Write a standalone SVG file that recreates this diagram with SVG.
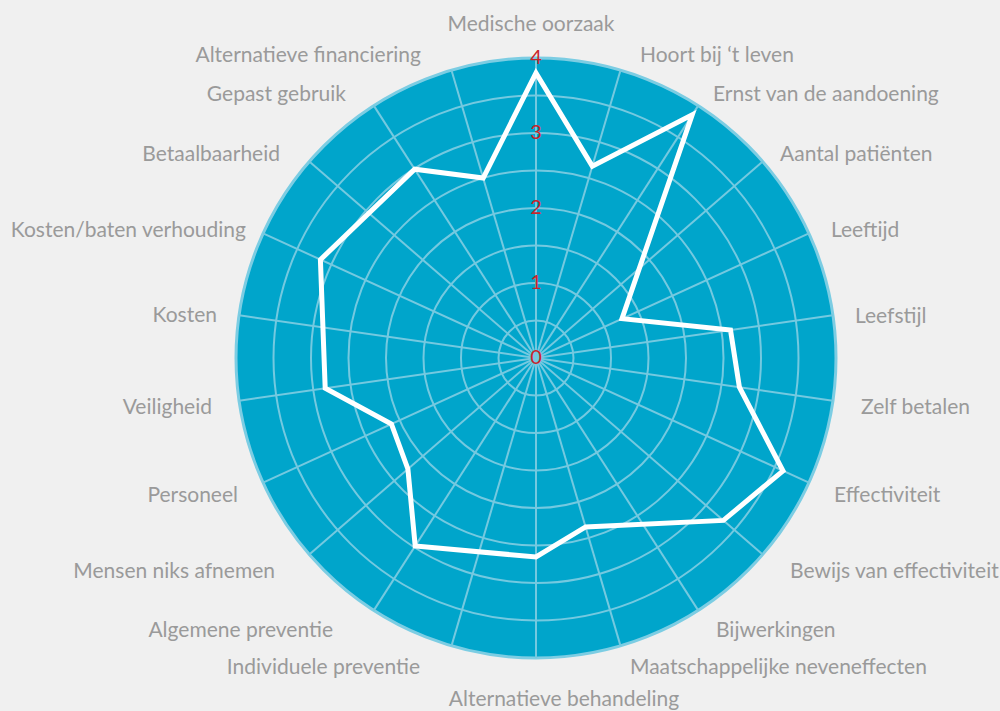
<svg xmlns="http://www.w3.org/2000/svg" width="1000" height="711" viewBox="0 0 1000 711">
<style>
.lbl{font-family:Lato,"Open Sans","Liberation Sans",sans-serif;font-size:21px;fill:#9a9a9a}
.val{font-family:Lato,"Open Sans","Liberation Sans",sans-serif;font-size:20px;fill:#c8242b;text-anchor:middle}
.grid{fill:none;stroke:#74c9e0;stroke-width:2}
.s{text-anchor:start}.e{text-anchor:end}.m{text-anchor:middle}
</style>
<rect width="1000" height="711" fill="#f0f0f0"/>
<g id="chart">
<circle cx="536" cy="358" r="300" fill="#00a5cb" stroke="#7ccde3" stroke-width="3"/>
<g class="grid">
<circle cx="536" cy="358" r="37.5"/><circle cx="536" cy="358" r="75"/><circle cx="536" cy="358" r="112.5"/><circle cx="536" cy="358" r="150"/><circle cx="536" cy="358" r="187.5"/><circle cx="536" cy="358" r="225"/><circle cx="536" cy="358" r="262.5"/>
<line x1="536" y1="58" x2="536" y2="658"/>
<line x1="620.5" y1="70.2" x2="451.5" y2="645.9"/>
<line x1="698.2" y1="105.6" x2="373.8" y2="610.4"/>
<line x1="762.7" y1="161.5" x2="309.3" y2="554.5"/>
<line x1="808.9" y1="233.4" x2="263.1" y2="482.6"/>
<line x1="832.9" y1="315.3" x2="239.1" y2="400.7"/>
<line x1="832.9" y1="400.7" x2="239.1" y2="315.3"/>
<line x1="808.9" y1="482.6" x2="263.1" y2="233.4"/>
<line x1="762.7" y1="554.5" x2="309.3" y2="161.5"/>
<line x1="698.2" y1="610.4" x2="373.8" y2="105.6"/>
<line x1="620.5" y1="645.9" x2="451.5" y2="70.2"/>
</g>
</g>
<g id="connectors">
<polygon id="series" points="536,73 592.3,166.1 692.2,114.9 622,318.7 730.5,330 739.4,387.2 783,470.8 723.4,520.4 585.6,526.9 536,557 415.2,546 407.9,469 391.4,424 325.2,388.3 320.4,259.7 414.7,169.2 483.2,178" fill="none" stroke="#ffffff" stroke-width="5" stroke-linejoin="miter"/>
</g>
<g id="values">
<text class="val" x="536" y="64">4</text>
<text class="val" x="536" y="139">3</text>
<text class="val" x="536" y="214">2</text>
<text class="val" x="536" y="289">1</text>
<text class="val" x="536" y="364">0</text>
</g>
<g id="labels">
<text class="lbl m" x="531" y="31">Medische oorzaak</text>
<text class="lbl s" x="640" y="62">Hoort bij ‘t leven</text>
<text class="lbl s" x="713" y="101">Ernst van de aandoening</text>
<text class="lbl s" x="780" y="161">Aantal patiënten</text>
<text class="lbl s" x="831" y="237">Leeftijd</text>
<text class="lbl s" x="855" y="323">Leefstijl</text>
<text class="lbl s" x="861" y="414">Zelf betalen</text>
<text class="lbl s" x="834" y="502">Effectiviteit</text>
<text class="lbl s" x="790" y="578">Bewijs van effectiviteit</text>
<text class="lbl s" x="716" y="637">Bijwerkingen</text>
<text class="lbl s" x="630" y="674">Maatschappelijke neveneffecten</text>
<text class="lbl m" x="564" y="706">Alternatieve behandeling</text>
<text class="lbl e" x="420" y="674">Individuele preventie</text>
<text class="lbl e" x="333" y="637">Algemene preventie</text>
<text class="lbl e" x="275" y="578">Mensen niks afnemen</text>
<text class="lbl e" x="238" y="502">Personeel</text>
<text class="lbl e" x="212" y="414">Veiligheid</text>
<text class="lbl e" x="217" y="322">Kosten</text>
<text class="lbl e" x="246" y="237">Kosten/baten verhouding</text>
<text class="lbl e" x="280" y="161">Betaalbaarheid</text>
<text class="lbl e" x="346" y="101">Gepast gebruik</text>
<text class="lbl e" x="421" y="62">Alternatieve financiering</text>
</g>
</svg>
